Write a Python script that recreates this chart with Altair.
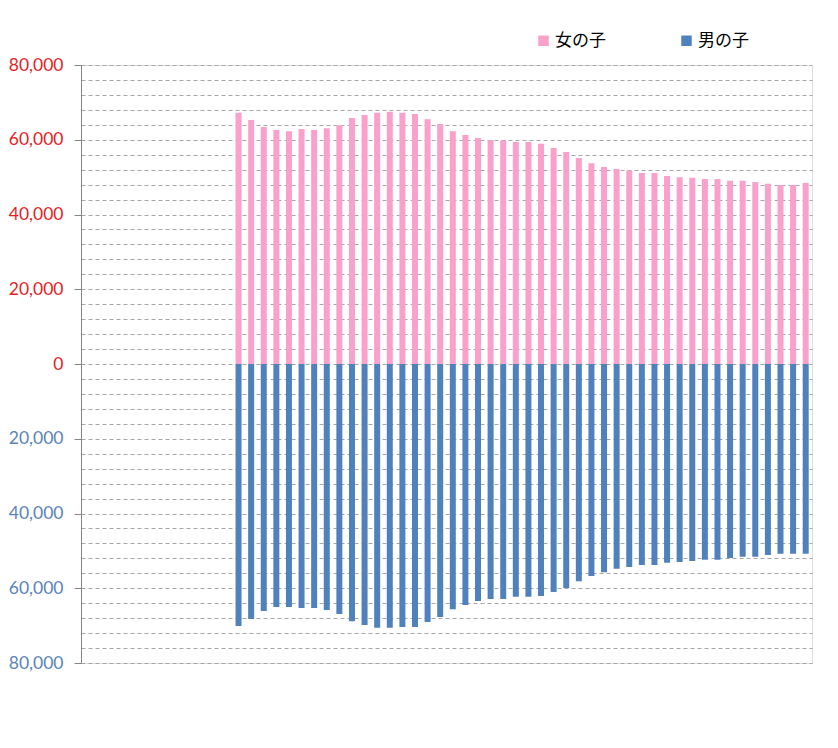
import altair as alt
import pandas as pd

# 58 category slots; first 12 are empty
n_empty = 12
girls = [67.2, 65.3, 63.4, 62.6, 62.3, 62.9, 62.6, 63.1, 63.9, 65.8, 66.6, 67.2, 67.5, 67.2,
         66.9, 65.5, 64.2, 62.3, 61.3, 60.5, 59.9, 59.8, 59.4, 59.4, 58.9, 57.8, 56.7, 55.1,
         53.7, 52.7, 52.2, 51.8, 51.1, 51.1, 50.3, 50.0, 49.8, 49.5, 49.5, 49.0, 49.0, 48.7,
         48.2, 47.9, 47.9, 48.4]
boys = [70.1, 68.2, 66.1, 65.0, 65.0, 65.3, 65.3, 65.8, 66.9, 68.8, 69.8, 70.6, 70.6, 70.4,
        70.4, 69.0, 67.7, 65.6, 64.5, 63.4, 62.9, 62.9, 62.3, 62.3, 62.1, 61.0, 59.9, 58.1,
        56.7, 55.7, 54.8, 54.3, 53.8, 53.8, 53.2, 53.0, 52.7, 52.4, 52.4, 51.9, 51.6, 51.6,
        51.1, 50.8, 50.8, 50.8]
series_names = ["女の子", "男の子"]
series_colors = ["#F9A0CB", "#4F81BD"]

categories = [f"c{i:02d}" for i in range(n_empty + len(girls))]

rows = []
for i, (g, b) in enumerate(zip(girls, boys)):
    cat = categories[n_empty + i]
    rows.append({"cat": cat, "series": series_names[0], "value": g * 1000})
    rows.append({"cat": cat, "series": series_names[1], "value": -b * 1000})
df = pd.DataFrame(rows)

grid_values = list(range(-80000, 80001, 4000))

chart = alt.Chart(df).mark_bar(size=6).encode(
    x=alt.X("cat:N", scale=alt.Scale(domain=categories, paddingInner=0, paddingOuter=0),
            axis=None, sort=None),
    y=alt.Y("value:Q", stack=None,
            scale=alt.Scale(domain=[-80000, 80000], nice=False),
            axis=alt.Axis(
                values=grid_values,
                title=None,
                grid=True,
                gridColor="#A6A6A6",
                gridDash=[4, 3],
                gridWidth=1,
                domainColor="#868686",
                domainWidth=1,
                tickSize=7,
                tickWidth=1,
                tickColor={"condition": {"test": "datum.value % 20000 === 0", "value": "#868686"},
                           "value": "transparent"},
                labelExpr="datum.value % 20000 === 0 ? format(abs(datum.value), ',') : ''",
                labelColor={"condition": {"test": "datum.value >= 0", "value": "#E41E26"},
                            "value": "#5B84B8"},
                labelFont="Lato",
                labelFontSize=17.5,
                labelPadding=11,
                labelOverlap=False,
                labelFlush=False,
            )),
    color=alt.Color("series:N",
                    scale=alt.Scale(domain=series_names, range=series_colors),
                    legend=alt.Legend(
                        title=None,
                        orient="none",
                        legendX=454,
                        legendY=-33,
                        direction="horizontal",
                        symbolType="square",
                        symbolSize=110,
                        symbolStrokeWidth=0,
                        labelFont="Noto Sans CJK JP",
                        labelFontSize=17,
                        labelColor="#000000",
                        columnPadding=72,
                        labelOffset=3,
                    )),
).properties(
    width=731,
    height=598,
    padding={"left": 73, "top": 57, "right": 10, "bottom": 10},
    autosize=alt.AutoSizeParams(type="none"),
).configure_view(stroke=None).configure(background="white")

chart.save("out.html", embed_options={"renderer": "svg", "actions": False})
